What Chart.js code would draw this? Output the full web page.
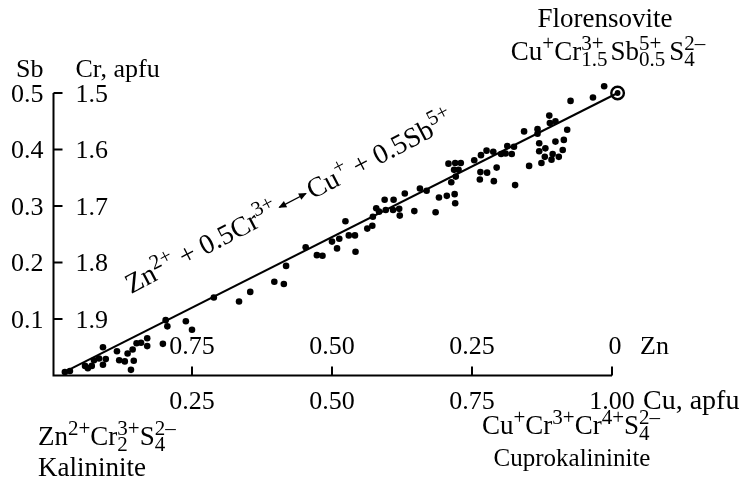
<!DOCTYPE html>
<html>
<head>
<meta charset="utf-8">
<script src="https://cdn.jsdelivr.net/npm/chart.js@4/dist/chart.umd.min.js"></script>
<style>
  html, body { margin: 0; padding: 0; background: #fff; }
  canvas { display: block; }
</style>
</head>
<body>
<canvas id="myChart" width="746" height="482"></canvas>
<script>
// Cu apfu (x) and Sb apfu (y) of the analyses
const cuValues = [
  0.023, 0.032, 0.059, 0.064, 0.071, 0.075, 0.084, 0.091, 0.091, 0.096,
  0.116, 0.120, 0.130, 0.135, 0.144, 0.146, 0.141, 0.151, 0.159, 0.170,
  0.170, 0.198, 0.203, 0.206, 0.239, 0.250, 0.289, 0.334, 0.354, 0.397,
  0.414, 0.418, 0.453, 0.473, 0.483, 0.500, 0.513, 0.509, 0.524, 0.530,
  0.541, 0.542, 0.563, 0.572, 0.573, 0.579, 0.584, 0.594, 0.596, 0.609,
  0.610, 0.620, 0.621, 0.630, 0.647, 0.657, 0.669, 0.685, 0.691, 0.705,
  0.713, 0.719, 0.720, 0.708, 0.720, 0.730, 0.718, 0.726, 0.721, 0.754,
  0.766, 0.776, 0.788, 0.765, 0.777, 0.794, 0.764, 0.789, 0.802, 0.810,
  0.821, 0.813, 0.825, 0.827, 0.843, 0.852, 0.867, 0.867, 0.870, 0.870,
  0.881, 0.874, 0.880, 0.892, 0.894, 0.905, 0.912, 0.899, 0.914, 0.889,
  0.888, 0.899, 0.920, 0.926, 0.966, 0.986
];
const sbValues = [
  0.006, 0.008, 0.017, 0.013, 0.017, 0.027, 0.030, 0.050, 0.019, 0.029,
  0.043, 0.027, 0.025, 0.039, 0.046, 0.026, 0.010, 0.057, 0.058, 0.066,
  0.052, 0.056, 0.098, 0.087, 0.096, 0.081, 0.138, 0.131, 0.148, 0.166,
  0.162, 0.194, 0.227, 0.213, 0.212, 0.237, 0.242, 0.225, 0.273, 0.248,
  0.248, 0.219, 0.260, 0.265, 0.281, 0.296, 0.290, 0.311, 0.293, 0.293,
  0.311, 0.295, 0.283, 0.322, 0.291, 0.331, 0.327, 0.289, 0.315, 0.318,
  0.342, 0.321, 0.305, 0.375, 0.376, 0.376, 0.364, 0.364, 0.352, 0.381,
  0.390, 0.398, 0.396, 0.360, 0.359, 0.368, 0.347, 0.344, 0.392, 0.393,
  0.392, 0.406, 0.405, 0.337, 0.432, 0.371, 0.436, 0.428, 0.411, 0.397,
  0.402, 0.376, 0.387, 0.382, 0.392, 0.387, 0.399, 0.414, 0.417, 0.447,
  0.460, 0.450, 0.435, 0.486, 0.492, 0.512
];

// substitution trend line and the florensovite end member
const trendCu = [0.02, 1.01];
const trendSb = [0.005, 0.5];
const florensoviteCu = 1.01;
const florensoviteSb = 0.5;

// tick labels
const sbTicks = [0.1, 0.2, 0.3, 0.4, 0.5];
const sbLabels = ['0.1', '0.2', '0.3', '0.4', '0.5'];
const crLabels = ['1.9', '1.8', '1.7', '1.6', '1.5'];
const cuTicks = [0.25, 0.50, 0.75, 1.00];
const cuLabels = ['0.25', '0.50', '0.75', '1.00'];
const znLabels = ['0.75', '0.50', '0.25', '0'];

const FONT = '"Liberation Serif", "Times New Roman", serif';
const SIZE = 26;
const TEXT = 27;

function partWidth(ctx, p, size) {
  if (typeof p === 'string') {
    ctx.font = size + 'px ' + FONT;
    return ctx.measureText(p).width;
  }
  if (p.arrow) return p.arrow;
  ctx.font = Math.round(size * 0.76) + 'px ' + FONT;
  return Math.max(p.sup ? ctx.measureText(p.sup).width : 0,
                  p.sub ? ctx.measureText(p.sub).width : 0) + (p.pad || 0);
}

// draws text with super/subscripts; parts are strings or {sup, sub}
function rich(ctx, parts, x, y, size, align) {
  ctx.textAlign = 'left';
  ctx.textBaseline = 'alphabetic';
  const total = parts.reduce((s, p) => s + partWidth(ctx, p, size), 0);
  let cx = align === 'center' ? x - total / 2 : (align === 'right' ? x - total : x);
  for (const p of parts) {
    const w = partWidth(ctx, p, size);
    if (typeof p === 'string') {
      ctx.font = size + 'px ' + FONT;
      ctx.fillText(p, cx, y);
    } else if (p.arrow) {
      const ay = y - size * 0.3;
      ctx.lineWidth = 1.3;
      ctx.beginPath();
      ctx.moveTo(cx + 3, ay);
      ctx.lineTo(cx + w - 3, ay);
      ctx.stroke();
      ctx.beginPath();
      ctx.moveTo(cx + 2, ay); ctx.lineTo(cx + 10, ay - 3.5); ctx.lineTo(cx + 10, ay + 3.5); ctx.closePath();
      ctx.moveTo(cx + w - 2, ay); ctx.lineTo(cx + w - 10, ay - 3.5); ctx.lineTo(cx + w - 10, ay + 3.5); ctx.closePath();
      ctx.fill();
    } else {
      ctx.font = Math.round(size * 0.76) + 'px ' + FONT;
      if (p.sup) ctx.fillText(p.sup, cx, y - size * 0.38);
      if (p.sub) ctx.fillText(p.sub, cx, y + size * 0.24);
    }
    cx += w;
  }
  ctx.font = size + 'px ' + FONT;
}

const axesPlugin = {
  id: 'axesPlugin',
  beforeDatasetsDraw(chart) {
    const ctx = chart.ctx;
    const xs = chart.scales.x, ys = chart.scales.y;
    const x0 = xs.getPixelForValue(0) + 1.5;
    const y0 = ys.getPixelForValue(0);
    ctx.save();
    ctx.strokeStyle = '#000';
    ctx.lineWidth = 2;
    ctx.beginPath();
    ctx.moveTo(x0, ys.getPixelForValue(0.5));
    ctx.lineTo(x0, y0);
    ctx.lineTo(xs.getPixelForValue(1.0), y0);
    ctx.stroke();
    ctx.beginPath();
    sbTicks.forEach(v => {
      const py = ys.getPixelForValue(v);
      ctx.moveTo(x0, py);
      ctx.lineTo(x0 + 9, py);
    });
    cuTicks.forEach(v => {
      const px = xs.getPixelForValue(v);
      ctx.moveTo(px, y0);
      ctx.lineTo(px, y0 - 9);
    });
    ctx.stroke();
    ctx.restore();
  },
  afterDraw(chart) {
    const ctx = chart.ctx;
    const xs = chart.scales.x, ys = chart.scales.y;
    const x0 = xs.getPixelForValue(0) + 1.5;
    const y0 = ys.getPixelForValue(0);
    ctx.save();
    ctx.fillStyle = '#000';
    ctx.strokeStyle = '#000';
    ctx.font = SIZE + 'px ' + FONT;
    ctx.textBaseline = 'middle';

    // Sb (left) and Cr (right) tick labels
    sbTicks.forEach((v, i) => {
      const py = ys.getPixelForValue(v) + 2;
      ctx.textAlign = 'right';
      ctx.fillText(sbLabels[i], x0 - 10, py);
      ctx.textAlign = 'left';
      ctx.fillText(crLabels[i], x0 + 22, py);
    });
    ctx.textBaseline = 'alphabetic';
    ctx.textAlign = 'right';
    ctx.fillText('Sb', x0 - 10, 77);
    ctx.textAlign = 'left';
    ctx.fillText('Cr, apfu', x0 + 22, 77);

    // Cu labels below the axis, Zn labels above it
    cuTicks.forEach((v, i) => {
      const px = xs.getPixelForValue(v);
      ctx.textAlign = 'center';
      ctx.fillText(cuLabels[i], px, y0 + 33);
      ctx.fillText(znLabels[i], px + (i === 3 ? 3 : 0), y0 - 22);
    });
    const xEnd = xs.getPixelForValue(1.0);
    ctx.textAlign = 'left';
    ctx.font = '28px ' + FONT;
    ctx.fillText('Cu, apfu', xEnd + 31, y0 + 33);
    ctx.font = SIZE + 'px ' + FONT;
    ctx.fillText('Zn', xEnd + 28, y0 - 22);

    // end members
    rich(ctx, ['Zn', {sup: '2+'}, 'Cr', {sup: '3+', sub: '2'}, 'S', {sup: '2–', sub: '4'}], 38, 445, TEXT, 'left');
    ctx.font = TEXT + 'px ' + FONT;
    ctx.textAlign = 'left';
    ctx.fillText('Kalininite', 38, 476);

    rich(ctx, ['Cu', {sup: '+'}, 'Cr', {sup: '3+'}, 'Cr', {sup: '4+'}, 'S', {sup: '2–', sub: '4'}], 571, 434, TEXT, 'center');
    ctx.font = '25px ' + FONT;
    ctx.textAlign = 'center';
    ctx.fillText('Cuprokalininite', 572, 466);

    ctx.font = TEXT + 'px ' + FONT;
    ctx.fillText('Florensovite', 605, 27);
    rich(ctx, ['Cu', {sup: '+'}, 'Cr', {sup: '3+', sub: '1.5', pad: 3}, 'Sb', {sup: '5+', sub: '0.5', pad: 4}, 'S', {sup: '2–', sub: '4'}], 608, 60, TEXT, 'center');

    // substitution scheme along the trend line
    ctx.save();
    ctx.translate(131, 294);
    ctx.rotate(-27.5 * Math.PI / 180);
    rich(ctx, ['Zn', {sup: '2+'}, ' + 0.5Cr', {sup: '3+'}, {arrow: 36}, 'Cu', {sup: '+'}, ' + 0.5Sb', {sup: '5+'}], 0, 0, 28, 'left');
    ctx.restore();

    ctx.restore();
  }
};

const points = cuValues.map((x, i) => ({x: x, y: sbValues[i]}));
const trend = trendCu.map((x, i) => ({x: x, y: trendSb[i]}));
const florDot = [{x: florensoviteCu, y: florensoviteSb}];
const florRing = [{x: florensoviteCu, y: florensoviteSb}];

const ctx = document.getElementById('myChart').getContext('2d');
const chart = new Chart(ctx, {
  type: 'scatter',
  data: {
    datasets: [
      { data: florDot, pointRadius: 2.9, backgroundColor: '#000', borderColor: '#000', borderWidth: 0, clip: false },
      { data: florRing, pointRadius: 6.3, backgroundColor: 'rgba(0,0,0,0)', borderColor: '#000', borderWidth: 2.4, clip: false },
      { data: points, pointRadius: 3.3, backgroundColor: '#000', borderWidth: 0, clip: false },
      { type: 'line', data: trend, borderColor: '#000', borderWidth: 2, pointRadius: 0, fill: false, clip: false }
    ]
  },
  options: {
    responsive: false,
    animation: false,
    devicePixelRatio: 1,
    events: [],
    // scale range a little wider than the drawn axes so edge points are kept
    layout: { padding: { left: 40.8, right: 122.8, top: 81.7, bottom: 100.85 } },
    scales: {
      x: { type: 'linear', min: -0.02, max: 1.02, display: false },
      y: { type: 'linear', min: -0.01, max: 0.52, display: false }
    },
    plugins: {
      legend: { display: false },
      tooltip: { enabled: false }
    }
  },
  plugins: [axesPlugin]
});
</script>
</body>
</html>
